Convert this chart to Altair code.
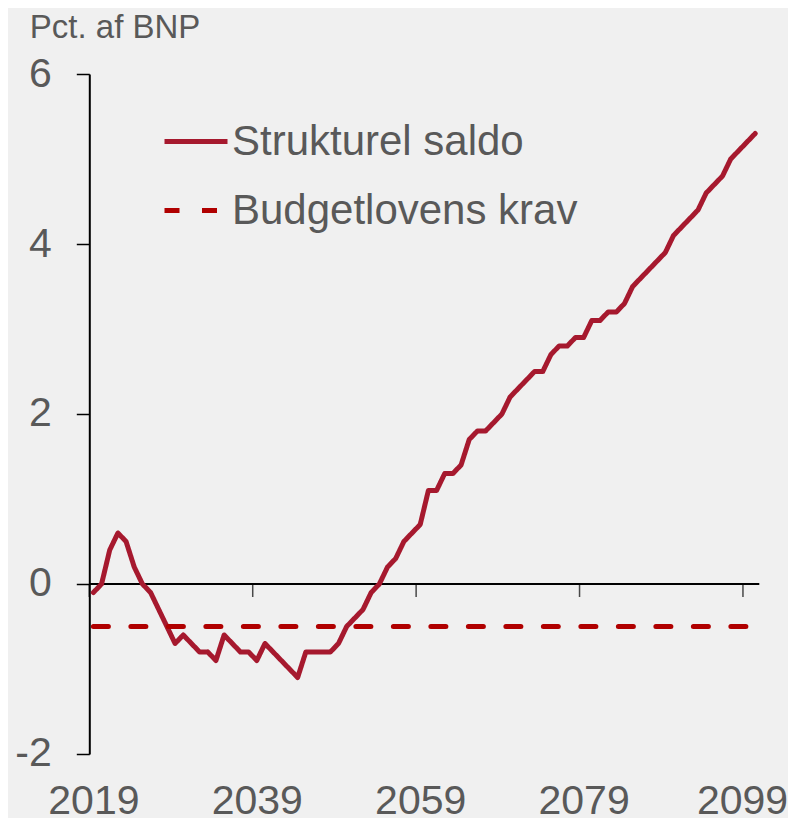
import altair as alt
import pandas as pd

years = list(range(2019, 2101))
saldo = [-0.1, 0.0, 0.4, 0.6, 0.5, 0.2, 0.0, -0.1, -0.3, -0.5,
         -0.7, -0.6, -0.7, -0.8, -0.8, -0.9, -0.6, -0.7, -0.8, -0.8,
         -0.9, -0.7, -0.8, -0.9, -1.0, -1.1, -0.8, -0.8, -0.8, -0.8,
         -0.7, -0.5, -0.4, -0.3, -0.1, 0.0, 0.2, 0.3, 0.5, 0.6,
         0.7, 1.1, 1.1, 1.3, 1.3, 1.4, 1.7, 1.8, 1.8, 1.9,
         2.0, 2.2, 2.3, 2.4, 2.5, 2.5, 2.7, 2.8, 2.8, 2.9,
         2.9, 3.1, 3.1, 3.2, 3.2, 3.3, 3.5, 3.6, 3.7, 3.8,
         3.9, 4.1, 4.2, 4.3, 4.4, 4.6, 4.7, 4.8, 5.0, 5.1,
         5.2, 5.3]
krav_years = [2019, 2100]
krav_values = [-0.5, -0.5]

series_names = ["Strukturel saldo", "Budgetlovens krav"]
series_colors = ["#A6192E", "#B00000"]
series_dash = [[1, 0], [15, 22.5]]

x_domain = [2018.5, 2100.5]
x_label_values = [2019, 2039, 2059, 2079, 2099]
x_tick_positions = [2018.5, 2038.5, 2058.5, 2078.5, 2098.5]
y_domain = [-2, 6]
y_tick_values = [-2, 0, 2, 4, 6]

TXT = "#595959"
FONT = "Liberation Sans"

df = pd.concat([
    pd.DataFrame({"year": years, "value": saldo, "series": series_names[0]}),
    pd.DataFrame({"year": krav_years, "value": krav_values, "series": series_names[1]}),
])

xscale = alt.Scale(domain=x_domain, nice=False, zero=False)
yscale = alt.Scale(domain=y_domain, nice=False, zero=False)

xaxis = alt.Axis(values=x_label_values, format="d", domain=False, ticks=False,
                 tickSize=0, grid=False, labelPadding=28, labelFontSize=41,
                 labelColor=TXT, labelFont=FONT, title=None, labelFlush=False,
                 labelOffset={"condition": {"test": "datum.value == 2099", "value": -5}, "value": 0})
yaxis = alt.Axis(values=y_tick_values, labelExpr="'' + datum.value", tickSize=13,
                 tickColor="black", tickWidth=1.5, domainColor="black", domainWidth=2,
                 grid=False, labelPadding=25, labelFontSize=41, labelColor=TXT,
                 labelFont=FONT, title="Pct. af BNP", titleAngle=0, titleAlign="left",
                 titleBaseline="alphabetic", titleX=-60, titleY=-37, titleFontSize=33,
                 titleFontWeight="normal", titleColor=TXT, titleFont=FONT)

legend = alt.Legend(orient="none", legendX=72.7, legendY=33.5, padding=0, title=None,
                    labelFontSize=42, labelColor=TXT, labelFont=FONT,
                    symbolType="stroke", symbolSize=3969, symbolStrokeWidth=5,
                    rowPadding=14, labelOffset=2, labelLimit=600)

axis_line = alt.Chart(pd.DataFrame({"x": [x_domain[0]], "x2": [x_domain[1]], "y": [0]})).mark_rule(
    color="black", strokeWidth=2
).encode(
    x=alt.X("x:Q", scale=xscale, axis=xaxis),
    x2="x2:Q",
    y=alt.Y("y:Q", scale=yscale, axis=yaxis),
)

ticks = alt.Chart(pd.DataFrame({"x": x_tick_positions})).mark_tick(
    orient="vertical", size=13, thickness=1.5, yOffset=6.5, color="black"
).encode(
    x=alt.X("x:Q", scale=xscale),
    y=alt.datum(0),
)

lines = alt.Chart(df).mark_line(strokeWidth=5, strokeCap="round", strokeJoin="round").encode(
    x=alt.X("year:Q", scale=xscale),
    y=alt.Y("value:Q", scale=yscale),
    color=alt.Color("series:N", scale=alt.Scale(domain=series_names, range=series_colors), legend=legend),
    strokeDash=alt.StrokeDash("series:N", scale=alt.Scale(domain=series_names, range=series_dash), legend=legend),
    detail="series:N",
)

chart = alt.layer(axis_line, ticks, lines).properties(
    width=670, height=680,
    autosize=alt.AutoSizeParams(type="none"),
    padding={"left": 81.3, "top": 66, "right": 28.5, "bottom": 64},
    background="#f0f0f0",
).configure_view(stroke=None)

chart.save("out.html", embed_options={"renderer": "svg", "actions": False})
